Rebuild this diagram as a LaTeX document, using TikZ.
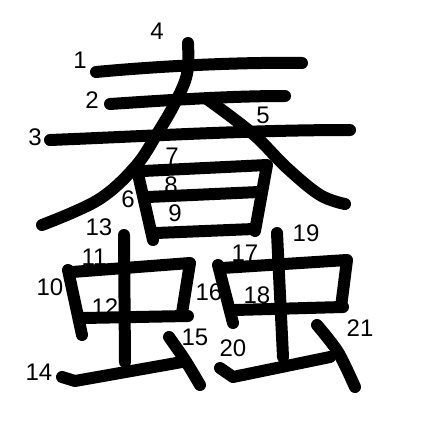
\documentclass[tikz,border=0pt]{standalone}
\usepackage{fontspec}
\setmainfont{Liberation Sans}
\begin{document}
\begin{tikzpicture}[x=1pt,y=-1pt,
  stroke/.style={line width=12pt,line cap=round,line join=round},
  num/.style={font=\fontsize{24}{24}\selectfont,inner sep=0pt}]
\useasboundingbox[fill=white] (0,0) rectangle (447,447);
% strokes
\draw[stroke] (96,72) .. controls (160,66) and (240,62) .. (302,63);
\draw[stroke] (110,104) .. controls (170,100) and (230,96) .. (285,96);
\draw[stroke] (50,140) .. controls (150,136) and (250,130) .. (350,130);
\draw[stroke] plot[smooth,tension=0.6] coordinates {(188,43) (187,74) (175,103) (157,134) (135,167) (98,200) (42,225)};
\draw[stroke] plot[smooth,tension=0.6] coordinates {(207,99) (253,134) (287,168) (320,195) (345,204)};
\draw[stroke] (138,174) -- (153,240);
\draw[stroke] (143,171) -- (267,165) -- (255,231);
\draw[stroke] (148,197) -- (259,192);
\draw[stroke] (156,233) -- (254,229);
% left mushi
\draw[stroke] (68,270) -- (82,335);
\draw[stroke] (72,272) -- (190,263) -- (182,313);
\draw[stroke] (83,318) -- (188,316);
\draw[stroke] (124,235) -- (125,362);
\draw[stroke] (62,377) -- (75,381) -- (182,362);
\draw[stroke] plot[smooth] coordinates {(169,337) (185,360) (200,385)};
% right mushi
\draw[stroke] (218,265) -- (233,323);
\draw[stroke] (222,268) -- (347,260) -- (341,307);
\draw[stroke] (235,310) -- (343,307);
\draw[stroke] (277,233) -- (283,357);
\draw[stroke] (220,368) -- (233,377) -- (330,357);
\draw[stroke] plot[smooth] coordinates {(317,325) (338,352) (355,387)};
% numbers
\node[num] (n1) at (80,60) {1};
\node[num] (n2) at (92,100) {2};
\node[num] (n3) at (35,137) {3};
\node[num] (n4) at (157,31) {4};
\node[num] (n5) at (263,115) {5};
\node[num] (n6) at (128,199) {6};
\node[num] (n7) at (172,156) {7};
\node[num] (n8) at (171,185) {8};
\node[num] (n9) at (175,213) {9};
\node[num] (n10) at (50,287) {10};
\node[num] (n11) at (94,257) {11};
\node[num] (n12) at (105,307) {12};
\node[num] (n13) at (99,227) {13};
\node[num] (n14) at (39,372) {14};
\node[num] (n15) at (195,337) {15};
\node[num] (n16) at (209,292) {16};
\node[num] (n17) at (245,253) {17};
\node[num] (n18) at (257,295) {18};
\node[num] (n19) at (306,233) {19};
\node[num] (n20) at (233,348) {20};
\node[num] (n21) at (360,328) {21};
\end{tikzpicture}
\end{document}
